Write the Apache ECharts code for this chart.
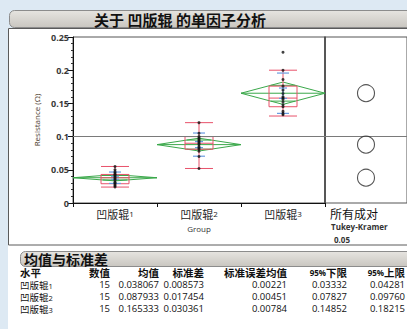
<!DOCTYPE html>
<html><head><meta charset="utf-8">
<script src="https://cdn.jsdelivr.net/npm/echarts@6/dist/echarts.min.js"></script>
<style>html,body{margin:0;padding:0;background:#dde9f3;overflow:hidden}#c{width:407px;height:329px;}</style>
</head><body><div id="c"></div>
<script>
// ---- data ----
const categories = ['凹版辊1', '凹版辊2', '凹版辊3'];
const counts = [15, 15, 15];
const means = [0.038067, 0.087933, 0.165333];
const stdDevs = [0.008573, 0.017454, 0.030361];
const stdErrs = [0.00221, 0.00451, 0.00784];
const lower95 = [0.03332, 0.07827, 0.14852];
const upper95 = [0.04281, 0.09760, 0.18215];
const grandMean = 0.097111;
const group1 = [0.024, 0.026, 0.028, 0.030, 0.031, 0.034, 0.036, 0.038, 0.040, 0.042, 0.043, 0.045, 0.047, 0.050, 0.055];
const group2 = [0.052, 0.070, 0.078, 0.081, 0.083, 0.085, 0.088, 0.090, 0.092, 0.094, 0.096, 0.098, 0.100, 0.105, 0.121];
const group3 = [0.133, 0.135, 0.138, 0.145, 0.148, 0.152, 0.156, 0.158, 0.160, 0.165, 0.170, 0.176, 0.186, 0.200, 0.227];
// [min whisker, Q1, median, Q3, max whisker]
const boxStats = [
  [0.024, 0.029, 0.038, 0.043, 0.055],
  [0.052, 0.081, 0.090, 0.100, 0.121],
  [0.131, 0.145, 0.158, 0.176, 0.200]
];
const yTicks = [0, 0.05, 0.1, 0.15, 0.2, 0.25];
const tableHeaders = ['水平', '数值', '均值', '标准差', '标准误差均值', '95%下限', '95%上限'];

// ---- chart ----
const chart = echarts.init(document.getElementById('c'), null, {renderer: 'svg'});
const CJK = '"Noto Sans CJK SC", "Noto Sans", sans-serif';
const LAT = '"Open Sans", "Noto Sans", sans-serif';
const GREEN = '#3aa84a', RED = '#e8526a', BLUE = '#6a9be0';

function splitLabel(v) {
  const m = String(v).match(/^(.*?)(\d+)$/);
  return m ? '{a|' + m[1] + '}{b|' + m[2] + '}' : v;
}

const groups = [group1, group2, group3];
const pointData = [];
groups.forEach((g, i) => g.forEach(v => pointData.push([i, v])));

const diamondData = means.map((m, i) => [i, m, lower95[i], upper95[i]]);
const blueData = means.map((m, i) => [i, m, stdDevs[i], stdErrs[i]]);
const circleData = means.map(m => [0.5, m]);

// table graphics
const tableG = [];
const colRight = [null, 110, 159, 204, 287, 347, 405];
const hdrY = 272.5, rowY = [284.5, 296.5, 308.5];
tableHeaders.forEach((h, c) => {
  let txt = h;
  if (h.startsWith('95%')) { txt = '{s|95%}{t|' + h.slice(3) + '}'; }
  tableG.push({
    type: 'text', z: 10,
    x: c === 0 ? 20 : colRight[c], y: hdrY,
    style: {
      text: txt, fill: '#111', fontSize: 10.5, fontWeight: 'bold', fontFamily: CJK, lineHeight: 11,
      align: c === 0 ? 'left' : 'right', verticalAlign: 'middle',
      rich: {s: {fontSize: 8, fontWeight: 'bold', fontFamily: LAT, fill: '#111', lineHeight: 11},
             t: {fontSize: 10.5, fontWeight: 'bold', fontFamily: CJK, fill: '#111', lineHeight: 11}}
    }
  });
});
categories.forEach((cat, r) => {
  const vals = [counts[r], means[r].toFixed(6), stdDevs[r].toFixed(6), stdErrs[r].toFixed(5), lower95[r].toFixed(5), upper95[r].toFixed(5)];
  tableG.push({
    type: 'text', z: 10, x: 20, y: rowY[r],
    style: {
      text: splitLabel(cat), verticalAlign: 'middle', align: 'left', lineHeight: 10,
      rich: {a: {fontSize: 9.5, fontFamily: CJK, fill: '#111', lineHeight: 10},
             b: {fontSize: 7.5, fontFamily: LAT, fill: '#111', lineHeight: 10, verticalAlign: 'bottom'}}
    }
  });
  vals.forEach((v, k) => {
    tableG.push({
      type: 'text', z: 10, x: colRight[k + 1], y: rowY[r],
      style: {text: String(v), fontSize: 9.5, fontFamily: LAT, fill: '#111', lineHeight: 10, align: 'right', verticalAlign: 'middle'}
    });
  });
});

const barGrad = {type: 'linear', x: 0, y: 0, x2: 0, y2: 1, colorStops: [{offset: 0, color: '#e6e4e0'}, {offset: 1, color: '#c9c6c0'}]};

const option = {
  animation: false,
  backgroundColor: 'transparent',
  graphic: [
    {type: 'rect', z: -5, shape: {x: 8, y: 28, width: 420, height: 320}, style: {fill: '#ffffff'}},
    {type: 'rect', z: -4, shape: {x: 8.5, y: 28.5, width: 420, height: 216.5}, style: {fill: '#ffffff', stroke: '#5a5a5a', lineWidth: 1}},
    {type: 'rect', z: 5, shape: {x: 9.5, y: 10.5, width: 420, height: 17, r: [5, 0, 0, 5]}, style: {fill: barGrad, stroke: '#8c8c8c', lineWidth: 1}},
    {type: 'text', z: 6, x: 180, y: 19.5, style: {text: '关于 凹版辊 的单因子分析', fontSize: 15, fontWeight: 'bold', fontFamily: CJK, lineHeight: 16, fill: '#111', align: 'center', verticalAlign: 'middle'}},
    {type: 'rect', z: 5, shape: {x: 20.5, y: 251.5, width: 420, height: 15, r: [5, 0, 0, 5]}, style: {fill: barGrad, stroke: '#8c8c8c', lineWidth: 1}},
    {type: 'text', z: 6, x: 24, y: 259, style: {text: '均值与标准差', fontSize: 14, fontWeight: 'bold', fontFamily: CJK, lineHeight: 14, fill: '#111', align: 'left', verticalAlign: 'middle'}},
    {type: 'text', z: 6, x: 330, y: 213, style: {text: '所有成对', fontSize: 12, fontFamily: CJK, lineHeight: 12, fill: '#111', align: 'left', verticalAlign: 'middle'}},
    {type: 'text', z: 6, x: 331, y: 226, style: {text: 'Tukey-Kramer', fontSize: 8, fontWeight: 'bold', fontFamily: LAT, lineHeight: 9, fill: '#333', align: 'left', verticalAlign: 'middle'}},
    {type: 'text', z: 6, x: 334, y: 239, style: {text: '0.05', fontSize: 8, fontWeight: 'bold', fontFamily: LAT, lineHeight: 9, fill: '#333', align: 'left', verticalAlign: 'middle'}}
  ].concat(tableG),
  grid: [
    {left: 73, top: 37, width: 252, height: 166, show: true, borderColor: '#555', borderWidth: 1, backgroundColor: 'transparent'},
    {left: 325, top: 37, width: 84, height: 166, show: true, borderColor: '#555', borderWidth: 1, backgroundColor: 'transparent'}
  ],
  xAxis: [
    {
      type: 'category', gridIndex: 0, data: categories, boundaryGap: true,
      axisLine: {lineStyle: {color: '#111', width: 1}},
      axisTick: {show: true, length: 4, lineStyle: {color: '#111'}},
      axisLabel: {interval: 0, margin: 5, formatter: splitLabel, hideOverlap: false,
        rich: {a: {fontSize: 11, fontFamily: CJK, color: '#222'}, b: {fontSize: 8, fontFamily: LAT, color: '#222', verticalAlign: 'bottom', padding: [0, 0, 1, 0]}}},
      name: 'Group', nameLocation: 'middle', nameGap: 21,
      nameTextStyle: {fontSize: 8, fontFamily: LAT, color: '#333'},
      splitLine: {show: false}
    },
    {type: 'value', gridIndex: 1, min: 0, max: 1, show: false}
  ],
  yAxis: [
    {
      type: 'value', gridIndex: 0, min: 0, max: 0.25, interval: 0.05,
      axisLine: {show: true, lineStyle: {color: '#111', width: 1}},
      axisTick: {show: true, length: 5, lineStyle: {color: '#111'}},
      minorTick: {show: true, splitNumber: 5, length: 2, lineStyle: {color: '#333'}},
      axisLabel: {margin: 4, fontSize: 9, fontWeight: 'bold', fontFamily: LAT, color: '#3a3a3a',
        formatter: v => { const t = yTicks.find(x => Math.abs(x - v) < 1e-9); return String(t !== undefined ? t : v); }},
      splitLine: {show: false},
      name: 'Resistance (Ω)', nameLocation: 'middle', nameGap: 30, nameRotate: 90,
      nameTextStyle: {fontSize: 8, fontFamily: LAT, color: '#4a3a2a'}
    },
    {type: 'value', gridIndex: 1, min: 0, max: 0.25, show: true,
      axisLine: {show: true, lineStyle: {color: '#4a4a4a', width: 1.5}},
      axisTick: {show: false}, axisLabel: {show: false}, splitLine: {show: false}}
  ],
  series: [
    {
      type: 'custom', xAxisIndex: 0, yAxisIndex: 0, z: 2, silent: true,
      data: diamondData,
      renderItem: (params, api) => {
        const i = api.value(0), m = api.value(1), lo = api.value(2), hi = api.value(3);
        const c = api.coord([i, m]);
        const bw = api.size([1, 0])[0];
        const h = bw / 2, cx = c[0], yM = c[1];
        const yHi = api.coord([i, hi])[1], yLo = api.coord([i, lo])[1];
        const om = (hi - m) / Math.SQRT2;
        const yO1 = api.coord([i, m + om])[1], yO2 = api.coord([i, m - om])[1];
        const ow = h * (1 - 1 / Math.SQRT2);
        const st = {stroke: GREEN, lineWidth: 1, fill: 'none'};
        return {type: 'group', children: [
          {type: 'polygon', shape: {points: [[cx - h, yM], [cx, yHi], [cx + h, yM], [cx, yLo]]}, style: st},
          {type: 'line', shape: {x1: cx - h, y1: yM, x2: cx + h, y2: yM}, style: st},
          {type: 'line', shape: {x1: cx - ow, y1: yO1, x2: cx + ow, y2: yO1}, style: st},
          {type: 'line', shape: {x1: cx - ow, y1: yO2, x2: cx + ow, y2: yO2}, style: st}
        ]};
      },
      markLine: {silent: true, symbol: 'none', label: {show: false},
        lineStyle: {color: '#7a7a7a', width: 1, type: 'solid'}, data: [{yAxis: grandMean}]}
    },
    {
      type: 'boxplot', xAxisIndex: 0, yAxisIndex: 0, z: 3, silent: true,
      data: boxStats, boxWidth: [28, 28],
      itemStyle: {color: 'rgba(0,0,0,0)', borderColor: RED, borderWidth: 1},
      emphasis: {disabled: true}
    },
    {
      type: 'custom', xAxisIndex: 0, yAxisIndex: 0, z: 4, silent: true,
      data: blueData,
      renderItem: (params, api) => {
        const i = api.value(0), m = api.value(1), sd = api.value(2), se = api.value(3);
        const cx = api.coord([i, m])[0];
        const y1 = api.coord([i, m + sd])[1], y2 = api.coord([i, m - sd])[1];
        const e1 = api.coord([i, m + se])[1], e2 = api.coord([i, m - se])[1];
        const st = {stroke: BLUE, lineWidth: 1.2, fill: 'none'};
        return {type: 'group', children: [
          {type: 'line', shape: {x1: cx - 6, y1: y1, x2: cx + 6, y2: y1}, style: st},
          {type: 'line', shape: {x1: cx - 6, y1: y2, x2: cx + 6, y2: y2}, style: st},
          {type: 'line', shape: {x1: cx, y1: e1, x2: cx, y2: e2}, style: st},
          {type: 'line', shape: {x1: cx - 4, y1: e1, x2: cx + 4, y2: e1}, style: st},
          {type: 'line', shape: {x1: cx - 4, y1: e2, x2: cx + 4, y2: e2}, style: st}
        ]};
      }
    },
    {
      type: 'scatter', xAxisIndex: 0, yAxisIndex: 0, z: 5, silent: true,
      data: pointData, symbol: 'circle', symbolSize: 3,
      itemStyle: {color: '#111'}
    },
    {
      type: 'scatter', xAxisIndex: 1, yAxisIndex: 1, z: 5, silent: true,
      data: circleData, symbol: 'circle', symbolSize: 17,
      itemStyle: {color: 'rgba(0,0,0,0)', borderColor: '#2a2a2a', borderWidth: 1.1},
      markLine: {silent: true, symbol: 'none', label: {show: false},
        lineStyle: {color: '#7a7a7a', width: 1, type: 'solid'}, data: [{yAxis: grandMean}]}
    }
  ]
};
chart.setOption(option);
</script>
</body></html>
